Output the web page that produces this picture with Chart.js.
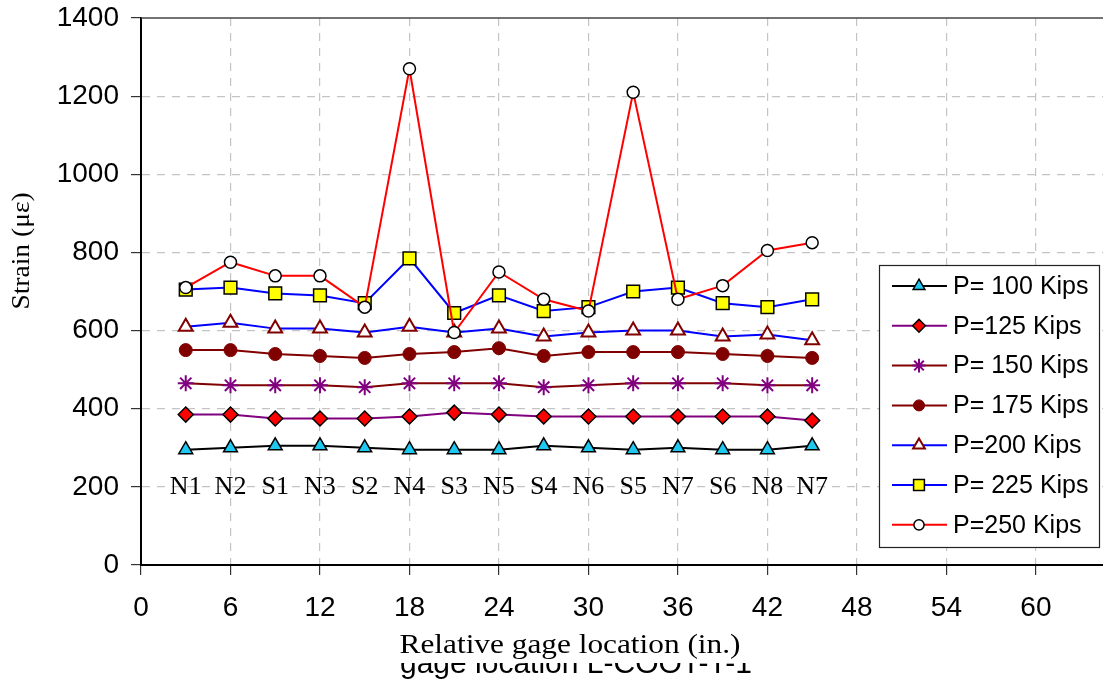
<!DOCTYPE html>
<html>
<head>
<meta charset="utf-8">
<script src="https://cdn.jsdelivr.net/npm/chart.js@4.4.0/dist/chart.umd.min.js"></script>
<style>
html, body { margin: 0; padding: 0; background: #fff; }
</style>
</head>
<body>
<canvas id="chart" width="1103" height="679"></canvas>
<script>
const gageX = [3, 6, 9, 12, 15, 18, 21, 24, 27, 30, 33, 36, 39, 42, 45];
const gageNames = ['N1', 'N2', 'S1', 'N3', 'S2', 'N4', 'S3', 'N5', 'S4', 'N6', 'S5', 'N7', 'S6', 'N8', 'N7'];
const xTicks = [0, 6, 12, 18, 24, 30, 36, 42, 48, 54, 60];
const yTicks = [0, 200, 400, 600, 800, 1000, 1200, 1400];

const seriesNames = ['P= 100 Kips', 'P=125 Kips', 'P= 150 Kips', 'P= 175 Kips', 'P=200 Kips', 'P= 225 Kips', 'P=250 Kips'];
const p100 = [295, 300, 305, 305, 300, 295, 295, 295, 305, 300, 295, 300, 295, 295, 305];
const p125 = [385, 385, 375, 375, 375, 380, 390, 385, 380, 380, 380, 380, 380, 380, 370];
const p150 = [465, 460, 460, 460, 455, 465, 465, 465, 455, 460, 465, 465, 465, 460, 460];
const p175 = [550, 550, 540, 535, 530, 540, 545, 555, 535, 545, 545, 545, 540, 535, 530];
const p200 = [610, 620, 605, 605, 595, 610, 595, 605, 585, 595, 600, 600, 585, 590, 575];
const p225 = [705, 710, 695, 690, 670, 785, 645, 690, 650, 660, 700, 710, 670, 660, 680];
const p250 = [710, 775, 740, 740, 660, 1270, 595, 750, 680, 650, 1210, 680, 715, 805, 825];

const sans = 'Liberation Sans, Arial, sans-serif';
const serif = 'Liberation Serif, Times New Roman, serif';

// line colour, marker style, marker fill, marker border, radius, border width
const looks = [
	['#000000', 'triangle', '#1EC8F0', '#000000', 8, 1.5],
	['#800080', 'rectRot', '#FF0000', '#000000', 7.5, 1.5],
	['#800000', 'star', '#800080', '#800080', 8, 2],
	['#800000', 'circle', '#800000', '#800000', 6.5, 1],
	['#0000FF', 'triangle', '#FFFFFF', '#800000', 8, 2],
	['#0000FF', 'rect', '#FFFF00', '#000000', 9, 1.5],
	['#FF0000', 'circle', '#FFFFFF', '#000000', 6, 1.5]
];

const allSeries = [p100, p125, p150, p175, p200, p225, p250];
const datasets = allSeries.map((vals, i) => {
	const [line, style, fill, border, r, bw] = looks[i];
	return {
		label: seriesNames[i],
		data: vals.map((v, j) => ({ x: gageX[j], y: v })),
		borderColor: line,
		borderWidth: 2,
		pointStyle: style,
		pointBackgroundColor: fill,
		pointBorderColor: border,
		pointRadius: r,
		pointBorderWidth: bw,
		fill: false,
		tension: 0,
		order: allSeries.length - i
	};
});

const drawMarker = (ctx, opts, x, y) => {
	if (Chart.helpers && Chart.helpers.drawPoint) {
		Chart.helpers.drawPoint(ctx, opts, x, y);
	} else {
		ctx.beginPath();
		ctx.arc(x, y, opts.radius, 0, Math.PI * 2);
		ctx.fill();
		ctx.stroke();
	}
};

const extras = {
	id: 'extras',
	beforeDraw(chart) {
		const ctx = chart.ctx;
		ctx.save();
		ctx.fillStyle = '#fff';
		ctx.fillRect(0, 0, chart.width, chart.height);
		ctx.restore();
	},
	afterDraw(chart) {
		const ctx = chart.ctx;
		const area = chart.chartArea;
		const xs = chart.scales.x;
		const ys = chart.scales.y;
		ctx.save();

		// top border
		ctx.strokeStyle = '#444';
		ctx.lineWidth = 1.5;
		ctx.beginPath();
		ctx.moveTo(area.left, area.top);
		ctx.lineTo(area.right, area.top);
		ctx.stroke();

		// gage names
		ctx.fillStyle = '#000';
		ctx.font = '26px ' + serif;
		ctx.textAlign = 'center';
		ctx.textBaseline = 'alphabetic';
		gageNames.forEach((name, i) => {
			ctx.fillText(name, xs.getPixelForValue(gageX[i]), ys.getPixelForValue(200) + 7);
		});

		// legend
		const lx = 879, ly = 265, lw = 220, lh = 282;
		ctx.fillStyle = '#fff';
		ctx.fillRect(lx, ly, lw, lh);
		ctx.strokeStyle = '#222';
		ctx.lineWidth = 1.2;
		ctx.strokeRect(lx + 0.5, ly + 0.5, lw, lh);
		chart.data.datasets.forEach((ds, i) => {
			const cy = ly + 21 + i * 39.8;
			ctx.strokeStyle = ds.borderColor;
			ctx.lineWidth = 2;
			ctx.beginPath();
			ctx.moveTo(892, cy);
			ctx.lineTo(947, cy);
			ctx.stroke();
			ctx.fillStyle = ds.pointBackgroundColor;
			ctx.strokeStyle = ds.pointBorderColor;
			ctx.lineWidth = ds.pointBorderWidth;
			drawMarker(ctx, { pointStyle: ds.pointStyle, radius: ds.pointRadius * 0.85, borderWidth: ds.pointBorderWidth, rotation: 0 }, 919, cy);
			ctx.fillStyle = '#000';
			ctx.font = '25px ' + sans;
			ctx.textAlign = 'left';
			ctx.textBaseline = 'middle';
			ctx.fillText(ds.label, 953, cy + 1);
		});

		// y title
		ctx.save();
		ctx.translate(22, 251);
		ctx.rotate(-Math.PI / 2);
		ctx.scale(1.1, 1);
		ctx.font = '25px ' + serif;
		ctx.textAlign = 'center';
		ctx.textBaseline = 'middle';
		ctx.fillStyle = '#000';
		ctx.fillText('Strain (\u03bc\u03b5)', 0, 0);
		ctx.restore();

		// hidden caption under the x title
		ctx.font = '30px ' + sans;
		ctx.textAlign = 'left';
		ctx.textBaseline = 'alphabetic';
		ctx.fillStyle = '#000';
		ctx.fillText('gage location L-COOT-T-1', 400, 673);
		ctx.fillStyle = '#fff';
		ctx.fillRect(385, 620, 400, 43);

		// x title
		ctx.save();
		ctx.translate(570, 653);
		ctx.scale(1.16, 1);
		ctx.fillStyle = '#000';
		ctx.font = '27px ' + serif;
		ctx.textAlign = 'center';
		ctx.fillText('Relative gage location (in.)', 0, 0);
		ctx.restore();
		ctx.restore();
	}
};

new Chart(document.getElementById('chart').getContext('2d'), {
	type: 'line',
	data: { datasets: datasets },
	options: {
		responsive: false,
		animation: false,
		devicePixelRatio: 1,
		layout: { autoPadding: false, padding: { top: 18, right: 0, left: 0, bottom: 0 } },
		plugins: {
			legend: { display: false },
			tooltip: { enabled: false }
		},
		scales: {
			x: {
				type: 'linear',
				min: 0,
				max: 64.5,
				afterBuildTicks: scale => { scale.ticks = xTicks.map(v => ({ value: v })); },
				afterFit: scale => {
					scale.height = 114;
					scale.paddingLeft = 0;
					scale.paddingRight = 0;
				},
				grid: {
					color: ctx => (ctx.tick && ctx.tick.value === 0) ? 'rgba(0,0,0,0)' : '#C4C4C4',
					lineWidth: 1.2,
					tickLength: 10,
					tickColor: '#333',
					tickWidth: 1.2,
					tickBorderDash: []
				},
				border: { color: '#000', width: 2, dash: [8, 7] },
				ticks: {
					color: '#000',
					font: { family: sans, size: 28 },
					padding: 16,
					maxRotation: 0,
					autoSkip: false,
					callback: v => String(v)
				}
			},
			y: {
				min: 0,
				max: 1400,
				afterBuildTicks: scale => { scale.ticks = yTicks.map(v => ({ value: v })); },
				afterFit: scale => {
					scale.width = 141;
					scale.paddingTop = 0;
					scale.paddingBottom = 0;
				},
				grid: {
					color: ctx => (ctx.tick && (ctx.tick.value === 0 || ctx.tick.value === 1400)) ? 'rgba(0,0,0,0)' : '#C4C4C4',
					lineWidth: 1.2,
					tickLength: 10,
					tickColor: '#333',
					tickWidth: 1.2,
					tickBorderDash: []
				},
				border: { color: '#000', width: 2, dash: [8, 7] },
				ticks: {
					color: '#000',
					font: { family: sans, size: 28 },
					padding: 12,
					callback: v => String(v)
				}
			}
		}
	},
	plugins: [extras]
});
</script>
</body>
</html>
